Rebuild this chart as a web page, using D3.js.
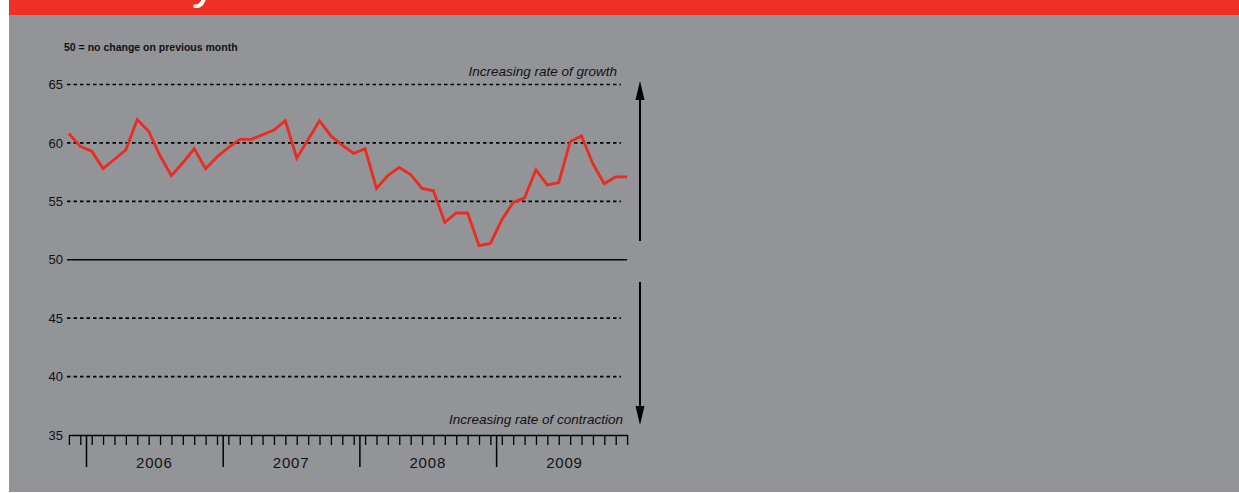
<!DOCTYPE html>
<html>
  <head>
    <meta charset="utf-8" />
    <title>PMI chart</title>
    <script src="https://d3js.org/d3.v7.min.js"></script>
    <style>
      body { margin: 0; background: #fff; }
      svg { display: block; font-family: "Liberation Sans", Arial, sans-serif; }
    </style>
  </head>
  <body>
    <svg width="1239" height="493"></svg>
    <script>
      // monthly index readings, Nov 2005 - Dec 2009
      const months = d3.range(50);
      const values = [
        60.8, 59.7, 59.3, 57.8, 58.6, 59.4, 62.0, 61.0, 58.9, 57.2,
        58.3, 59.5, 57.8, 58.8, 59.6, 60.3, 60.3, 60.7, 61.1, 61.9,
        58.7, 60.3, 61.9, 60.6, 59.8, 59.1, 59.5, 56.1, 57.2, 57.9,
        57.3, 56.1, 55.9, 53.2, 54.0, 54.0, 51.2, 51.4, 53.4, 54.9,
        55.3, 57.7, 56.4, 56.6, 60.1, 60.6, 58.2, 56.5, 57.1, 57.1
      ];
      const yTicks = [35, 40, 45, 50, 55, 60, 65];
      const yearBounds = [1.5, 13.5, 25.5, 37.5];
      const years = ["2006", "2007", "2008", "2009"];
      const yearMids = [7.5, 19.5, 31.5, 43.5];

      const svg = d3.select("svg");

      // page frame
      svg.append("rect").attr("x", 9).attr("y", 0).attr("width", 1230).attr("height", 15).attr("fill", "#ee3124");
      svg.append("rect").attr("x", 9).attr("y", 15).attr("width", 1230).attr("height", 477).attr("fill", "#939498");
      svg.append("clipPath").attr("id", "band").append("rect")
        .attr("x", 9).attr("y", 0).attr("width", 1230).attr("height", 15);
      // only the tail of the title shows above the chart
      svg.append("text").attr("clip-path", "url(#band)")
        .attr("x", 192).attr("y", -2)
        .attr("font-size", 50).attr("fill", "#fff")
        .text("y");

      const x = d3.scaleLinear().domain([0, 49]).range([68.9, 627.1]);
      const y = d3.scaleLinear().domain([35, 65]).range([435, 84.5]);

      svg.append("text").attr("x", 64).attr("y", 51)
        .attr("font-size", 10.5).attr("font-weight", "bold").attr("fill", "#111")
        .text("50 = no change on previous month");

      // dashed grid
      svg.append("g").selectAll("line")
        .data(yTicks.filter(d => d !== 35 && d !== 50))
        .join("line")
        .attr("x1", 67).attr("x2", 621)
        .attr("y1", d => y(d)).attr("y2", d => y(d))
        .attr("stroke", "#000").attr("stroke-width", 1.6)
        .attr("stroke-dasharray", "3.5,3");

      svg.append("line")
        .attr("x1", 67).attr("x2", x(49))
        .attr("y1", y(50)).attr("y2", y(50))
        .attr("stroke", "#000").attr("stroke-width", 1.3);

      // y labels
      svg.append("g").selectAll("text").data(yTicks).join("text")
        .attr("x", 63).attr("y", d => y(d)).attr("dy", "0.36em")
        .attr("text-anchor", "end").attr("font-size", 13).attr("fill", "#111")
        .text(d => d);

      // x axis: month ticks
      const xAxis = svg.append("g").attr("transform", `translate(0,${y(35)})`)
        .call(d3.axisBottom(x).tickValues(months).tickSize(10).tickSizeOuter(0).tickFormat(""));
      xAxis.select(".domain").attr("stroke", "#000").attr("stroke-width", 1.5);
      xAxis.selectAll(".tick line").attr("stroke", "#000").attr("stroke-width", 1.3);

      const yearAxis = svg.append("g").attr("transform", `translate(0,${y(35)})`)
        .call(d3.axisBottom(x).tickValues(yearBounds).tickSize(32).tickFormat(""));
      yearAxis.select(".domain").remove();
      yearAxis.selectAll(".tick line").attr("stroke", "#000").attr("stroke-width", 1.5);

      svg.append("g").selectAll("text").data(yearMids).join("text")
        .attr("x", d => x(d)).attr("y", 468)
        .attr("text-anchor", "middle").attr("font-size", 15).attr("fill", "#111")
        .attr("letter-spacing", 0.8)
        .text((d, i) => years[i]);

      // series
      svg.append("path").datum(values)
        .attr("fill", "none").attr("stroke", "#ec2a1f").attr("stroke-width", 2.8)
        .attr("stroke-linejoin", "miter")
        .attr("d", d3.line().x((d, i) => x(months[i])).y(d => y(d)));

      // direction arrows
      const ax = 640;
      svg.append("line").attr("x1", ax).attr("x2", ax).attr("y1", 241).attr("y2", 96)
        .attr("stroke", "#000").attr("stroke-width", 2);
      svg.append("path").attr("d", `M${ax},81 L${ax - 4.5},100 L${ax + 4.5},100 Z`).attr("fill", "#000");
      svg.append("line").attr("x1", ax).attr("x2", ax).attr("y1", 282).attr("y2", 410)
        .attr("stroke", "#000").attr("stroke-width", 2);
      svg.append("path").attr("d", `M${ax},425 L${ax - 4.5},406 L${ax + 4.5},406 Z`).attr("fill", "#000");

      svg.append("text").attr("x", 617).attr("y", 76).attr("text-anchor", "end")
        .attr("font-size", 13.5).attr("font-style", "italic").attr("fill", "#111")
        .text("Increasing rate of growth");
      svg.append("text").attr("x", 623).attr("y", 424).attr("text-anchor", "end")
        .attr("font-size", 13.5).attr("font-style", "italic").attr("fill", "#111")
        .text("Increasing rate of contraction");
    </script>
  </body>
</html>
